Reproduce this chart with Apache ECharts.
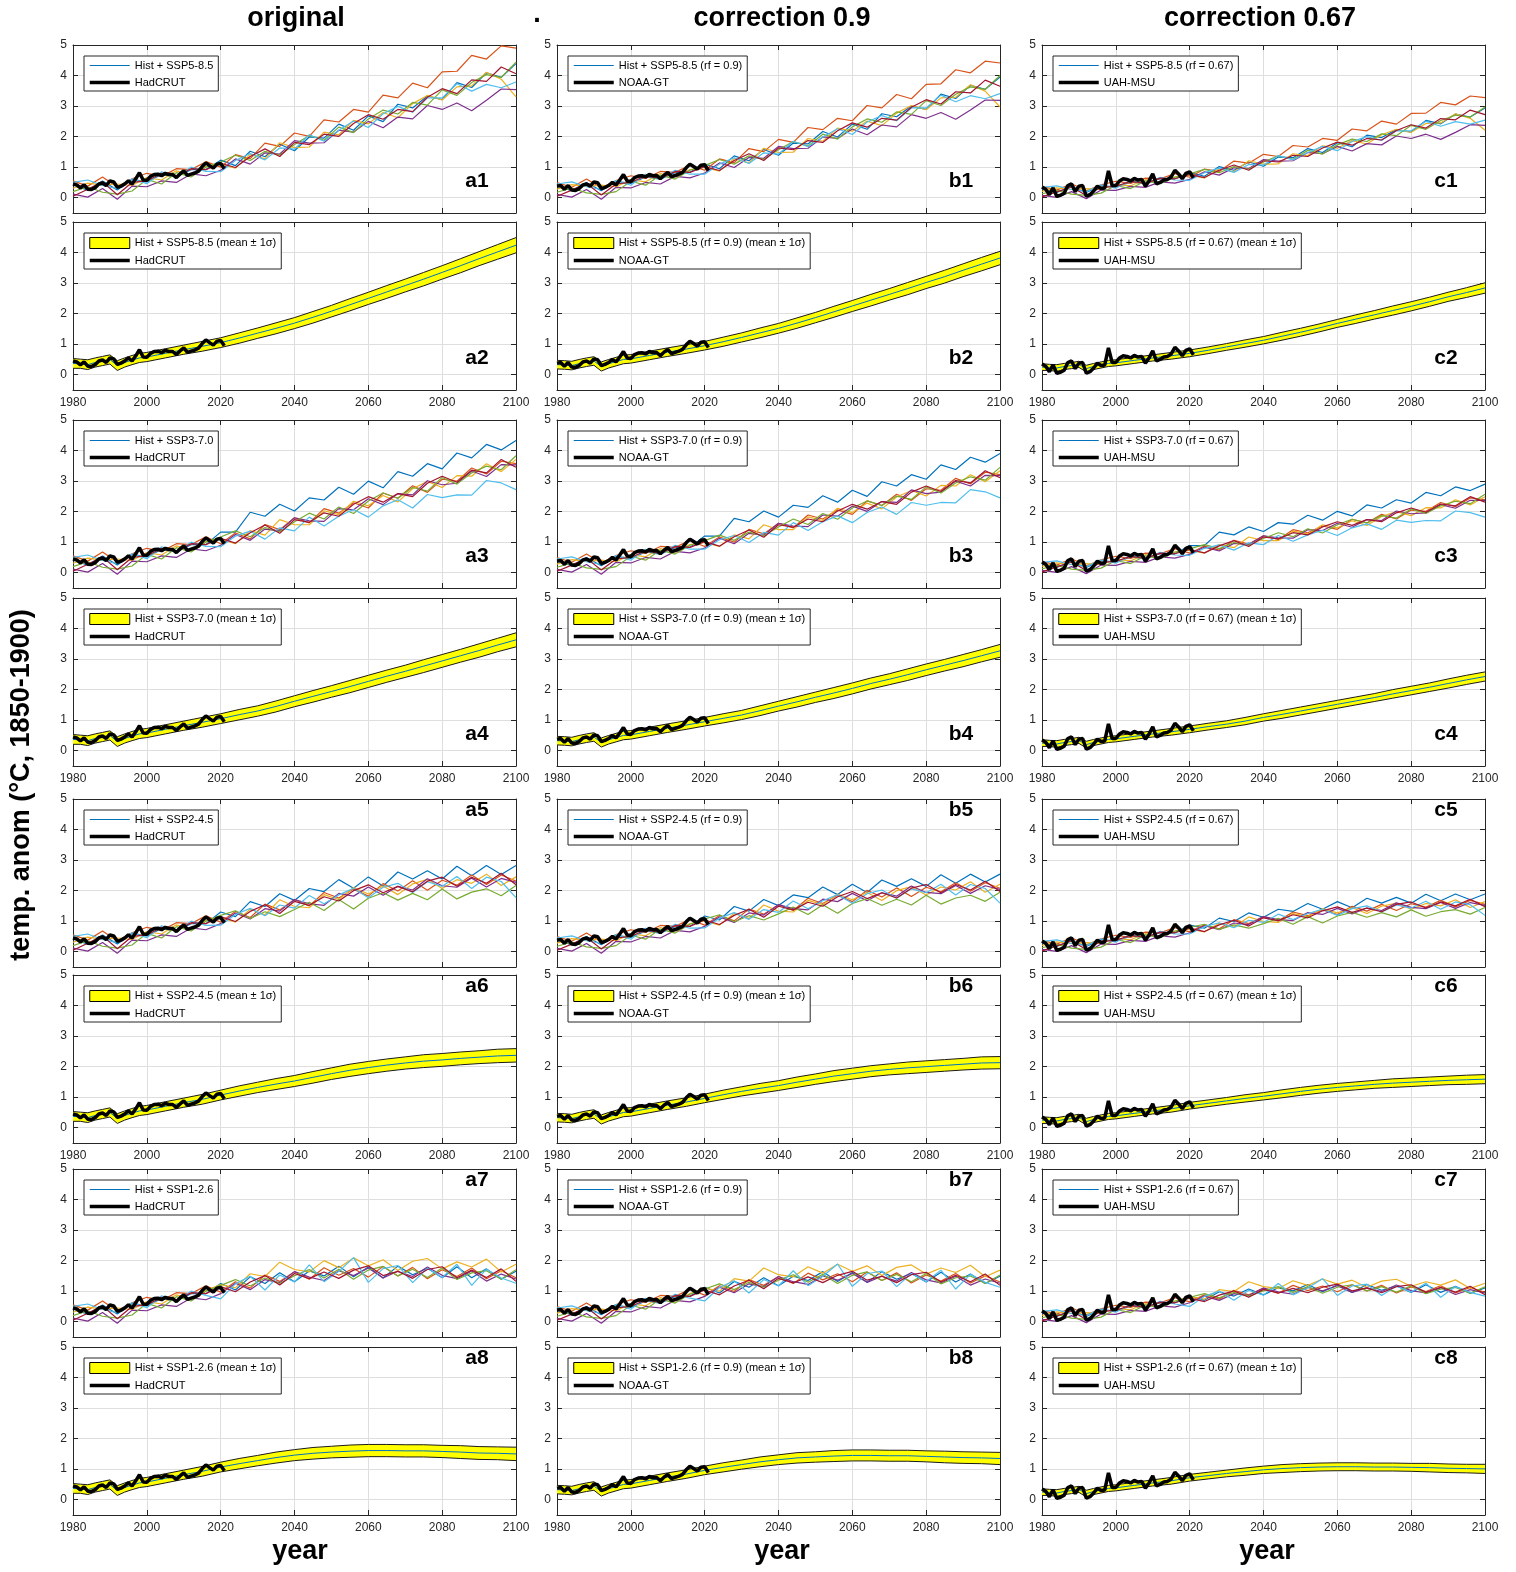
<!DOCTYPE html>
<html>
<head>
<meta charset="utf-8">
<script src="https://cdn.jsdelivr.net/npm/echarts@6/dist/echarts.min.js"></script>
<style>
  html, body { margin: 0; background: #fff; }
  #chart { width: 1516px; height: 1572px; }
</style>
</head>
<body>
<div id="chart"></div>
<script>
// ---- data ----
const SCENARIOS = ["SSP5-8.5", "SSP3-7.0", "SSP2-4.5", "SSP1-2.6"];
const Y_TICKS = [0, 1, 2, 3, 4, 5];

const OBS_YEARS = [1980,1981,1982,1983,1984,1985,1986,1987,1988,1989,1990,1991,1992,1993,1994,1995,1996,1997,1998,1999,2000,2001,2002,2003,2004,2005,2006,2007,2008,2009,2010,2011,2012,2013,2014,2015,2016,2017,2018,2019,2020,2021];
const HADCRUT = [0.45,0.42,0.32,0.42,0.28,0.27,0.33,0.45,0.48,0.40,0.55,0.52,0.34,0.38,0.45,0.55,0.45,0.62,0.82,0.58,0.57,0.70,0.76,0.77,0.72,0.80,0.76,0.76,0.66,0.78,0.88,0.73,0.77,0.81,0.87,1.02,1.14,1.05,0.97,1.10,1.12,0.95];
const NOAA_GT = [0.38,0.40,0.28,0.40,0.25,0.24,0.30,0.42,0.45,0.38,0.52,0.49,0.30,0.34,0.40,0.50,0.42,0.58,0.76,0.55,0.53,0.66,0.71,0.72,0.68,0.76,0.72,0.73,0.62,0.74,0.83,0.69,0.73,0.77,0.83,0.98,1.10,1.02,0.94,1.06,1.08,0.89];
const UAH_MSU = [0.35,0.28,0.10,0.32,0.05,0.08,0.15,0.40,0.45,0.20,0.38,0.40,0.05,0.10,0.22,0.38,0.30,0.32,0.88,0.40,0.40,0.55,0.62,0.60,0.55,0.63,0.58,0.60,0.38,0.55,0.78,0.45,0.50,0.58,0.60,0.68,0.90,0.78,0.62,0.80,0.85,0.65];

// ensemble members, sampled every 4 years (historical part 1980-2016, scenario part 2020-2100)
const MEMBER_YEARS = [1980,1984,1988,1992,1996,2000,2004,2008,2012,2016,2020,2024,2028,2032,2036,2040,2044,2048,2052,2056,2060,2064,2068,2072,2076,2080,2084,2088,2092,2096,2100];

const MEM_HIST_A = [
  [0.42,0.25,0.55,0.25,0.60,0.52,0.76,0.68,0.92,0.92],
  [0.55,0.38,0.68,0.35,0.62,0.80,0.70,0.95,0.92,1.18],
  [0.31,0.48,0.41,0.45,0.40,0.66,0.58,0.88,0.74,1.02],
  [0.12,0.02,0.30,-0.05,0.38,0.36,0.55,0.50,0.78,0.72],
  [0.20,0.36,0.18,0.12,0.22,0.60,0.45,0.82,0.68,1.00],
  [0.50,0.58,0.40,0.30,0.62,0.46,0.85,0.68,1.00,0.86],
  [0.05,0.28,0.52,0.10,0.50,0.55,0.80,0.70,0.95,0.92]
];
const MEM_HIST_B = [
  [0.38,0.23,0.50,0.23,0.54,0.47,0.68,0.61,0.83,0.83],
  [0.50,0.34,0.61,0.32,0.56,0.72,0.63,0.86,0.83,1.06],
  [0.28,0.43,0.37,0.41,0.36,0.59,0.52,0.79,0.67,0.92],
  [0.11,0.02,0.27,-0.05,0.34,0.32,0.50,0.45,0.70,0.65],
  [0.18,0.32,0.16,0.11,0.20,0.54,0.41,0.74,0.61,0.90],
  [0.45,0.52,0.36,0.27,0.56,0.41,0.77,0.61,0.90,0.77],
  [0.05,0.25,0.47,0.09,0.45,0.50,0.72,0.63,0.86,0.83]
];
const MEM_HIST_C = [
  [0.28,0.17,0.37,0.17,0.40,0.35,0.51,0.46,0.62,0.62],
  [0.37,0.25,0.46,0.23,0.42,0.54,0.47,0.64,0.62,0.79],
  [0.21,0.32,0.27,0.30,0.27,0.44,0.39,0.59,0.50,0.68],
  [0.08,0.01,0.20,-0.03,0.25,0.24,0.37,0.34,0.52,0.48],
  [0.13,0.24,0.12,0.08,0.15,0.40,0.30,0.55,0.46,0.67],
  [0.34,0.39,0.27,0.20,0.42,0.31,0.57,0.46,0.67,0.58],
  [0.03,0.19,0.35,0.07,0.34,0.37,0.54,0.47,0.64,0.62]
];

const MEM_585_A = [
  [1.23,1.05,1.52,1.34,1.75,1.54,1.99,1.95,2.41,2.21,2.68,2.49,3.06,2.94,3.33,3.21,3.77,3.61,4.09,3.94,4.39],
  [1.00,1.41,1.28,1.79,1.68,2.12,2.01,2.55,2.48,2.89,2.80,3.36,3.27,3.75,3.60,4.12,4.14,4.66,4.54,4.97,4.90],
  [1.10,0.97,1.42,1.27,1.80,1.64,1.66,2.15,2.06,2.53,2.42,2.79,2.62,3.08,3.35,3.20,3.63,3.66,4.11,3.88,3.30],
  [0.90,1.27,1.10,1.47,1.43,1.87,1.79,1.80,2.21,2.15,2.50,2.29,2.64,2.58,3.02,2.89,3.10,2.85,3.19,3.56,3.54],
  [1.17,1.39,1.22,1.52,1.40,1.74,2.04,1.88,2.31,2.13,2.58,2.87,2.74,3.12,3.03,3.53,3.35,3.77,4.03,3.94,4.44],
  [0.85,1.22,1.45,1.24,1.63,1.59,2.06,1.85,2.21,2.51,2.30,2.75,2.99,2.80,3.27,3.27,3.73,3.49,3.71,3.60,3.79],
  [1.13,0.99,1.35,1.60,1.35,1.81,1.74,2.08,2.01,2.43,2.72,2.57,2.89,2.82,3.29,3.57,3.41,3.86,3.81,4.28,4.06]
];
const MEM_585_B = [
  [1.11,0.95,1.37,1.21,1.58,1.39,1.79,1.76,2.17,1.99,2.41,2.24,2.75,2.65,3.00,2.89,3.39,3.25,3.68,3.55,3.95],
  [0.90,1.27,1.15,1.61,1.51,1.91,1.81,2.30,2.23,2.60,2.52,3.02,2.94,3.38,3.24,3.71,3.73,4.19,4.09,4.47,4.41],
  [0.99,0.87,1.28,1.14,1.62,1.48,1.49,1.94,1.85,2.28,2.18,2.51,2.36,2.77,3.02,2.88,3.27,3.29,3.70,3.49,2.97],
  [0.81,1.14,0.99,1.32,1.29,1.68,1.61,1.62,1.99,1.94,2.25,2.06,2.38,2.32,2.72,2.60,2.79,2.57,2.87,3.20,3.19],
  [1.05,1.25,1.10,1.37,1.26,1.57,1.84,1.69,2.08,1.92,2.32,2.58,2.47,2.81,2.73,3.18,3.02,3.39,3.63,3.55,4.00],
  [0.77,1.10,1.31,1.12,1.47,1.43,1.85,1.67,1.99,2.26,2.07,2.48,2.69,2.52,2.94,2.94,3.36,3.14,3.34,3.24,3.41],
  [1.02,0.89,1.22,1.44,1.22,1.63,1.57,1.87,1.81,2.19,2.45,2.31,2.60,2.54,2.96,3.21,3.07,3.47,3.43,3.85,3.65]
];
const MEM_585_C = [
  [0.82,0.70,1.02,0.90,1.17,1.03,1.33,1.31,1.61,1.48,1.80,1.67,2.05,1.97,2.23,2.15,2.53,2.42,2.74,2.64,2.94],
  [0.67,0.94,0.86,1.20,1.13,1.42,1.35,1.71,1.66,1.94,1.88,2.25,2.19,2.51,2.41,2.76,2.77,3.12,3.04,3.33,3.28],
  [0.74,0.65,0.95,0.85,1.21,1.10,1.11,1.44,1.38,1.70,1.62,1.87,1.76,2.06,2.24,2.14,2.43,2.45,2.75,2.60,2.21],
  [0.60,0.85,0.74,0.98,0.96,1.25,1.20,1.21,1.48,1.44,1.68,1.53,1.77,1.73,2.02,1.94,2.08,1.91,2.14,2.39,2.37],
  [0.78,0.93,0.82,1.02,0.94,1.17,1.37,1.26,1.55,1.43,1.73,1.92,1.84,2.09,2.03,2.37,2.24,2.53,2.70,2.64,2.97],
  [0.57,0.82,0.97,0.83,1.09,1.07,1.38,1.24,1.48,1.68,1.54,1.84,2.00,1.88,2.19,2.19,2.50,2.34,2.49,2.41,2.54],
  [0.76,0.66,0.90,1.07,0.90,1.21,1.17,1.39,1.35,1.63,1.82,1.72,1.94,1.89,2.20,2.39,2.28,2.59,2.55,2.87,2.72]
];

const MEM_370_A = [
  [1.33,1.33,1.98,1.85,2.24,2.02,2.45,2.38,2.80,2.57,3.00,2.78,3.31,3.16,3.57,3.40,3.92,3.76,4.20,4.02,4.33],
  [0.95,1.30,1.11,1.58,1.41,1.80,1.63,2.10,1.95,2.29,2.12,2.61,2.44,2.85,2.63,3.06,3.00,3.43,3.23,3.65,3.57],
  [1.10,0.95,1.38,1.23,1.74,1.57,1.57,2.03,1.90,2.34,2.19,2.53,2.32,2.75,2.99,2.79,3.18,3.16,3.57,3.31,3.71],
  [0.90,1.25,1.06,1.43,1.37,1.80,1.70,1.68,2.10,2.06,2.42,2.23,2.59,2.55,3.01,2.88,2.93,3.33,3.15,3.54,3.53],
  [1.17,1.37,1.18,1.48,1.34,1.67,1.95,1.76,2.15,1.94,2.35,2.61,2.44,2.79,2.67,3.12,2.90,3.27,3.49,3.37,3.83],
  [0.85,1.20,1.36,1.10,1.47,1.37,1.82,1.53,1.85,2.07,1.82,2.19,2.39,2.12,2.56,2.46,2.55,2.54,3.02,2.94,2.72],
  [1.13,0.97,1.31,1.56,1.29,1.74,1.65,1.96,1.85,2.24,2.49,2.31,2.59,2.49,2.93,3.16,2.96,3.36,3.27,3.71,3.45]
];
const MEM_370_B = [
  [1.20,1.20,1.78,1.67,2.02,1.82,2.21,2.14,2.52,2.31,2.70,2.50,2.98,2.84,3.21,3.06,3.53,3.38,3.78,3.62,3.90],
  [0.86,1.17,1.00,1.42,1.27,1.62,1.47,1.89,1.76,2.06,1.91,2.35,2.20,2.57,2.37,2.75,2.70,3.09,2.91,3.29,3.21],
  [0.99,0.86,1.24,1.11,1.57,1.41,1.41,1.83,1.71,2.11,1.97,2.28,2.09,2.48,2.69,2.51,2.86,2.84,3.21,2.98,3.34],
  [0.81,1.13,0.95,1.29,1.23,1.62,1.53,1.51,1.89,1.85,2.18,2.01,2.33,2.30,2.71,2.59,2.64,3.00,2.84,3.19,3.18],
  [1.05,1.23,1.06,1.33,1.21,1.50,1.76,1.58,1.94,1.75,2.12,2.35,2.20,2.51,2.40,2.81,2.61,2.94,3.14,3.03,3.45],
  [0.77,1.08,1.22,0.99,1.32,1.23,1.64,1.38,1.67,1.86,1.64,1.97,2.15,1.91,2.30,2.21,2.30,2.29,2.72,2.65,2.45],
  [1.02,0.87,1.18,1.40,1.16,1.57,1.49,1.76,1.67,2.02,2.24,2.08,2.33,2.24,2.64,2.84,2.66,3.02,2.94,3.34,3.11]
];
const MEM_370_C = [
  [0.89,0.89,1.33,1.24,1.50,1.35,1.64,1.59,1.88,1.72,2.01,1.86,2.22,2.12,2.39,2.28,2.63,2.52,2.81,2.69,2.90],
  [0.64,0.87,0.74,1.06,0.94,1.21,1.09,1.41,1.31,1.53,1.42,1.75,1.63,1.91,1.76,2.05,2.01,2.30,2.16,2.45,2.39],
  [0.74,0.64,0.92,0.82,1.17,1.05,1.05,1.36,1.27,1.57,1.47,1.70,1.55,1.84,2.00,1.87,2.13,2.12,2.39,2.22,2.49],
  [0.60,0.84,0.71,0.96,0.92,1.21,1.14,1.13,1.41,1.38,1.62,1.49,1.74,1.71,2.02,1.93,1.96,2.23,2.11,2.37,2.37],
  [0.78,0.92,0.79,0.99,0.90,1.12,1.31,1.18,1.44,1.30,1.57,1.75,1.63,1.87,1.79,2.09,1.94,2.19,2.34,2.26,2.57],
  [0.57,0.80,0.91,0.74,0.98,0.92,1.22,1.03,1.24,1.39,1.22,1.47,1.60,1.42,1.72,1.65,1.71,1.70,2.02,1.97,1.82],
  [0.76,0.65,0.88,1.05,0.86,1.17,1.11,1.31,1.24,1.50,1.67,1.55,1.74,1.67,1.96,2.12,1.98,2.25,2.19,2.49,2.31]
];

const MEM_245_A = [
  [1.30,1.15,1.64,1.48,1.90,1.68,2.07,1.97,2.36,2.08,2.45,2.15,2.61,2.38,2.65,2.38,2.80,2.49,2.82,2.53,2.82],
  [0.97,1.32,1.12,1.56,1.37,1.71,1.50,1.94,1.76,2.05,1.82,2.23,1.99,2.32,2.01,2.34,2.18,2.51,2.20,2.51,2.31],
  [1.12,0.97,1.39,1.21,1.70,1.48,1.44,1.87,1.71,2.10,1.89,2.15,1.87,2.22,2.37,2.07,2.36,2.24,2.54,2.17,2.45],
  [0.92,1.27,1.07,1.41,1.33,1.71,1.57,1.52,1.91,1.82,2.12,1.85,2.14,2.02,2.39,2.16,2.11,2.41,2.12,2.40,2.27],
  [1.19,1.34,1.09,1.31,1.15,1.38,1.62,1.35,1.71,1.40,1.75,1.93,1.69,1.91,1.70,2.05,1.73,1.95,2.06,1.83,2.17],
  [0.87,1.22,1.42,1.18,1.53,1.43,1.84,1.57,1.86,2.08,1.77,2.11,2.24,1.94,2.29,2.14,2.46,2.07,2.44,2.30,1.77],
  [1.15,0.99,1.32,1.54,1.25,1.65,1.52,1.80,1.66,2.00,2.19,1.93,2.14,1.96,2.31,2.44,2.14,2.44,2.24,2.57,2.19]
];
const MEM_245_B = [
  [1.17,1.04,1.48,1.33,1.71,1.51,1.86,1.77,2.12,1.87,2.21,1.94,2.35,2.14,2.39,2.14,2.52,2.24,2.54,2.28,2.54],
  [0.87,1.19,1.01,1.40,1.23,1.54,1.35,1.75,1.58,1.85,1.64,2.01,1.79,2.09,1.81,2.11,1.96,2.26,1.98,2.26,2.08],
  [1.01,0.87,1.25,1.09,1.53,1.33,1.30,1.68,1.54,1.89,1.70,1.94,1.68,2.00,2.13,1.86,2.12,2.02,2.29,1.95,2.21],
  [0.83,1.14,0.96,1.27,1.20,1.54,1.41,1.37,1.72,1.64,1.91,1.67,1.93,1.82,2.15,1.94,1.90,2.17,1.91,2.16,2.04],
  [1.07,1.21,0.98,1.18,1.04,1.24,1.46,1.22,1.54,1.26,1.58,1.74,1.52,1.72,1.53,1.85,1.56,1.76,1.85,1.65,1.95],
  [0.78,1.10,1.28,1.06,1.38,1.29,1.66,1.41,1.67,1.87,1.59,1.90,2.02,1.75,2.06,1.93,2.21,1.86,2.20,2.07,1.59],
  [1.04,0.89,1.19,1.39,1.13,1.49,1.37,1.62,1.49,1.80,1.97,1.74,1.93,1.76,2.08,2.20,1.93,2.20,2.02,2.31,1.97]
];
const MEM_245_C = [
  [0.87,0.77,1.10,0.99,1.27,1.13,1.39,1.32,1.58,1.39,1.64,1.44,1.75,1.59,1.78,1.59,1.88,1.67,1.89,1.70,1.89],
  [0.65,0.88,0.75,1.05,0.92,1.15,1.01,1.30,1.18,1.37,1.22,1.49,1.33,1.55,1.35,1.57,1.46,1.68,1.47,1.68,1.55],
  [0.75,0.65,0.93,0.81,1.14,0.99,0.96,1.25,1.15,1.41,1.27,1.44,1.25,1.49,1.59,1.39,1.58,1.50,1.70,1.45,1.64],
  [0.62,0.85,0.72,0.94,0.89,1.15,1.05,1.02,1.28,1.22,1.42,1.24,1.43,1.35,1.60,1.45,1.41,1.61,1.42,1.61,1.52],
  [0.80,0.90,0.73,0.88,0.77,0.92,1.09,0.90,1.15,0.94,1.17,1.29,1.13,1.28,1.14,1.37,1.16,1.31,1.38,1.23,1.45],
  [0.58,0.82,0.95,0.79,1.03,0.96,1.23,1.05,1.25,1.39,1.19,1.41,1.50,1.30,1.53,1.43,1.65,1.39,1.63,1.54,1.19],
  [0.77,0.66,0.88,1.03,0.84,1.11,1.02,1.21,1.11,1.34,1.47,1.29,1.43,1.31,1.55,1.63,1.43,1.63,1.50,1.72,1.47]
];

const MEM_126_A = [
  [1.25,1.04,1.47,1.25,1.60,1.31,1.66,1.50,1.82,1.47,1.79,1.43,1.82,1.54,1.75,1.44,1.80,1.44,1.73,1.39,1.65],
  [0.97,1.31,1.10,1.53,1.32,1.64,1.39,1.77,1.52,1.74,1.46,1.81,1.50,1.78,1.41,1.70,1.48,1.76,1.41,1.67,1.44],
  [1.22,1.11,1.57,1.48,1.95,1.71,1.63,2.00,1.77,2.09,1.83,2.03,1.68,1.98,2.07,1.73,1.96,1.79,2.05,1.63,1.88],
  [0.92,1.26,1.05,1.38,1.28,1.64,1.46,1.35,1.67,1.51,1.76,1.43,1.65,1.48,1.79,1.52,1.41,1.66,1.33,1.56,1.40],
  [1.19,1.38,1.17,1.43,1.25,1.51,1.71,1.43,1.72,1.39,1.69,1.81,1.50,1.72,1.45,1.76,1.38,1.60,1.67,1.39,1.70],
  [0.75,1.24,1.49,1.04,1.53,1.30,1.86,1.31,1.65,2.10,1.29,1.74,1.84,1.28,1.75,1.45,1.88,1.19,1.72,1.43,1.26],
  [1.15,0.98,1.30,1.51,1.20,1.58,1.41,1.63,1.42,1.69,1.83,1.51,1.65,1.42,1.71,1.80,1.44,1.69,1.45,1.73,1.32]
];
const MEM_126_B = [
  [1.13,0.94,1.32,1.13,1.44,1.18,1.49,1.35,1.64,1.32,1.61,1.29,1.64,1.39,1.58,1.30,1.62,1.30,1.56,1.25,1.49],
  [0.87,1.18,0.99,1.38,1.19,1.48,1.25,1.59,1.37,1.57,1.31,1.63,1.35,1.60,1.27,1.53,1.33,1.58,1.27,1.50,1.30],
  [1.10,1.00,1.41,1.33,1.76,1.54,1.47,1.80,1.59,1.88,1.65,1.83,1.51,1.78,1.86,1.56,1.76,1.61,1.85,1.47,1.69],
  [0.83,1.13,0.95,1.24,1.15,1.48,1.31,1.22,1.50,1.36,1.58,1.29,1.49,1.33,1.61,1.37,1.27,1.49,1.20,1.40,1.26],
  [1.07,1.24,1.05,1.29,1.13,1.36,1.54,1.29,1.55,1.25,1.52,1.63,1.35,1.55,1.31,1.58,1.24,1.44,1.50,1.25,1.53],
  [0.68,1.12,1.34,0.94,1.38,1.17,1.67,1.18,1.49,1.89,1.16,1.57,1.66,1.15,1.58,1.31,1.69,1.07,1.55,1.29,1.13],
  [1.04,0.88,1.17,1.36,1.08,1.42,1.27,1.47,1.28,1.52,1.65,1.36,1.49,1.28,1.54,1.62,1.30,1.52,1.31,1.56,1.19]
];
const MEM_126_C = [
  [0.84,0.70,0.98,0.84,1.07,0.88,1.11,1.01,1.22,0.98,1.20,0.96,1.22,1.03,1.17,0.96,1.21,0.96,1.16,0.93,1.11],
  [0.65,0.88,0.74,1.03,0.88,1.10,0.93,1.19,1.02,1.17,0.98,1.21,1.01,1.19,0.94,1.14,0.99,1.18,0.94,1.12,0.96],
  [0.82,0.74,1.05,0.99,1.31,1.15,1.09,1.34,1.19,1.40,1.23,1.36,1.13,1.33,1.39,1.16,1.31,1.20,1.37,1.09,1.26],
  [0.62,0.84,0.70,0.92,0.86,1.10,0.98,0.90,1.12,1.01,1.18,0.96,1.11,0.99,1.20,1.02,0.94,1.11,0.89,1.05,0.94],
  [0.80,0.92,0.78,0.96,0.84,1.01,1.15,0.96,1.15,0.93,1.13,1.21,1.01,1.15,0.97,1.18,0.92,1.07,1.12,0.93,1.14],
  [0.50,0.83,1.00,0.70,1.03,0.87,1.25,0.88,1.11,1.41,0.86,1.17,1.23,0.86,1.17,0.97,1.26,0.80,1.15,0.96,0.84],
  [0.77,0.66,0.87,1.01,0.80,1.06,0.94,1.09,0.95,1.13,1.23,1.01,1.11,0.95,1.15,1.21,0.96,1.13,0.97,1.16,0.88]
];

// ensemble mean and 1-sigma spread (historical 1980-2000, scenario 2005-2100)
const BAND_YEARS = [1980,1982,1984,1986,1988,1990,1992,1994,1996,1998,2000,2005,2010,2015,2020,2025,2030,2035,2040,2045,2050,2055,2060,2065,2070,2075,2080,2085,2090,2095,2100];

const MEAN_HIST_A = [0.37,0.36,0.33,0.40,0.45,0.50,0.30,0.40,0.48,0.55,0.58];
const MEAN_HIST_B = [0.33,0.32,0.30,0.36,0.41,0.45,0.27,0.36,0.43,0.50,0.52];
const MEAN_HIST_C = [0.25,0.24,0.22,0.27,0.30,0.34,0.20,0.27,0.32,0.37,0.39];

const MEAN_585_A = [0.70,0.82,0.93,1.05,1.20,1.36,1.52,1.69,1.88,2.08,2.29,2.50,2.71,2.92,3.13,3.35,3.57,3.80,4.02,4.24];
const MEAN_585_B = [0.63,0.74,0.84,0.95,1.08,1.22,1.37,1.52,1.69,1.87,2.06,2.25,2.44,2.63,2.82,3.02,3.21,3.42,3.62,3.82];
const MEAN_585_C = [0.47,0.55,0.62,0.70,0.80,0.91,1.02,1.13,1.26,1.39,1.53,1.68,1.82,1.96,2.10,2.24,2.39,2.55,2.69,2.84];
const MEAN_370_A = [0.70,0.82,0.93,1.05,1.18,1.30,1.45,1.62,1.78,1.94,2.10,2.27,2.44,2.60,2.77,2.94,3.11,3.28,3.46,3.63];
const MEAN_370_B = [0.63,0.74,0.84,0.95,1.06,1.17,1.31,1.46,1.60,1.75,1.89,2.04,2.20,2.34,2.49,2.65,2.80,2.95,3.11,3.27];
const MEAN_370_C = [0.47,0.55,0.62,0.70,0.79,0.87,0.97,1.09,1.19,1.30,1.41,1.52,1.63,1.74,1.86,1.97,2.08,2.20,2.32,2.43];
const MEAN_245_A = [0.70,0.82,0.93,1.07,1.20,1.32,1.43,1.53,1.65,1.77,1.88,1.97,2.05,2.12,2.18,2.22,2.27,2.31,2.35,2.37];
const MEAN_245_B = [0.63,0.74,0.84,0.96,1.08,1.19,1.29,1.38,1.49,1.59,1.69,1.77,1.85,1.91,1.96,2.00,2.04,2.08,2.12,2.13];
const MEAN_245_C = [0.47,0.55,0.62,0.72,0.80,0.88,0.96,1.03,1.11,1.19,1.26,1.32,1.37,1.42,1.46,1.49,1.52,1.55,1.57,1.59];
const MEAN_126_A = [0.70,0.82,0.93,1.07,1.18,1.28,1.38,1.46,1.52,1.56,1.59,1.61,1.61,1.60,1.60,1.58,1.56,1.53,1.52,1.50];
const MEAN_126_B = [0.63,0.74,0.84,0.96,1.06,1.15,1.24,1.31,1.37,1.40,1.43,1.45,1.45,1.44,1.44,1.42,1.40,1.38,1.37,1.35];
const MEAN_126_C = [0.47,0.55,0.62,0.72,0.79,0.86,0.92,0.98,1.02,1.05,1.07,1.08,1.08,1.07,1.07,1.06,1.05,1.03,1.02,1.01];

const SIG_HIST_A = [0.16,0.15,0.16,0.15,0.15,0.15,0.16,0.15,0.15,0.15,0.15];
const SIG_HIST_B = [0.14,0.14,0.14,0.14,0.14,0.14,0.15,0.14,0.14,0.14,0.14];
const SIG_HIST_C = [0.11,0.10,0.11,0.10,0.10,0.10,0.11,0.10,0.10,0.10,0.10];

const SIG_585_A = [0.15,0.15,0.16,0.16,0.17,0.17,0.18,0.18,0.19,0.19,0.20,0.20,0.21,0.21,0.22,0.22,0.23,0.23,0.24,0.25];
const SIG_585_B = [0.14,0.14,0.14,0.14,0.15,0.15,0.16,0.16,0.17,0.17,0.18,0.18,0.19,0.19,0.20,0.20,0.21,0.21,0.22,0.22];
const SIG_585_C = [0.10,0.10,0.11,0.11,0.11,0.11,0.12,0.12,0.13,0.13,0.13,0.13,0.14,0.14,0.15,0.15,0.15,0.15,0.16,0.17];
const SIG_370_A = [0.15,0.15,0.16,0.16,0.17,0.17,0.18,0.18,0.19,0.19,0.20,0.20,0.20,0.20,0.21,0.21,0.21,0.22,0.22,0.23];
const SIG_370_B = [0.14,0.14,0.14,0.14,0.15,0.15,0.16,0.16,0.17,0.17,0.18,0.18,0.18,0.18,0.19,0.19,0.19,0.20,0.20,0.21];
const SIG_370_C = [0.10,0.10,0.11,0.11,0.11,0.11,0.12,0.12,0.13,0.13,0.13,0.13,0.13,0.13,0.14,0.14,0.14,0.15,0.15,0.15];
const SIG_245_A = [0.15,0.15,0.16,0.16,0.17,0.17,0.18,0.18,0.19,0.19,0.20,0.20,0.20,0.20,0.21,0.21,0.21,0.21,0.22,0.22];
const SIG_245_B = [0.14,0.14,0.14,0.14,0.15,0.15,0.16,0.16,0.17,0.17,0.18,0.18,0.18,0.18,0.19,0.19,0.19,0.19,0.20,0.20];
const SIG_245_C = [0.10,0.10,0.11,0.11,0.11,0.11,0.12,0.12,0.13,0.13,0.13,0.13,0.13,0.13,0.14,0.14,0.14,0.14,0.15,0.15];
const SIG_126_A = [0.15,0.15,0.16,0.16,0.17,0.17,0.18,0.18,0.19,0.19,0.20,0.20,0.20,0.20,0.20,0.20,0.21,0.21,0.21,0.22];
const SIG_126_B = [0.14,0.14,0.14,0.14,0.15,0.15,0.16,0.16,0.17,0.17,0.18,0.18,0.18,0.18,0.18,0.18,0.19,0.19,0.19,0.20];
const SIG_126_C = [0.10,0.10,0.11,0.11,0.11,0.11,0.12,0.12,0.13,0.13,0.13,0.13,0.13,0.13,0.13,0.13,0.14,0.14,0.14,0.15];

// ---- layout ----
const FONT = "'Liberation Sans', Arial, sans-serif";
const MEMBER_COLORS = ["#0072BD", "#D95319", "#EDB120", "#7E2F8E", "#77AC30", "#4DBEEE", "#A2142F"];
const AXIS_COLOR = "#262626";
const GRID_COLOR = "#dedede";
const BAND_FILL = "#ffff00";
const BAND_EDGE = "#1a1a1a";
const ROW_TOPS = [45, 222, 420, 598, 799, 975, 1169, 1347];
const ROW_H = 168;
const COL_W = 443;

const COLUMNS = [
  {
    id: "a", left: 73, suffix: "", obsName: "HadCRUT", obs: HADCRUT,
    memHist: MEM_HIST_A, memFut: [MEM_585_A, MEM_370_A, MEM_245_A, MEM_126_A],
    meanHist: MEAN_HIST_A, meanFut: [MEAN_585_A, MEAN_370_A, MEAN_245_A, MEAN_126_A],
    sigHist: SIG_HIST_A, sigFut: [SIG_585_A, SIG_370_A, SIG_245_A, SIG_126_A],
  },
  {
    id: "b", left: 557, suffix: " (rf = 0.9)", obsName: "NOAA-GT", obs: NOAA_GT,
    memHist: MEM_HIST_B, memFut: [MEM_585_B, MEM_370_B, MEM_245_B, MEM_126_B],
    meanHist: MEAN_HIST_B, meanFut: [MEAN_585_B, MEAN_370_B, MEAN_245_B, MEAN_126_B],
    sigHist: SIG_HIST_B, sigFut: [SIG_585_B, SIG_370_B, SIG_245_B, SIG_126_B],
  },
  {
    id: "c", left: 1042, suffix: " (rf = 0.67)", obsName: "UAH-MSU", obs: UAH_MSU,
    memHist: MEM_HIST_C, memFut: [MEM_585_C, MEM_370_C, MEM_245_C, MEM_126_C],
    meanHist: MEAN_HIST_C, meanFut: [MEAN_585_C, MEAN_370_C, MEAN_245_C, MEAN_126_C],
    sigHist: SIG_HIST_C, sigFut: [SIG_585_C, SIG_370_C, SIG_245_C, SIG_126_C],
  },
];

const grids = [], xAxes = [], yAxes = [], series = [], legends = [], graphics = [];

function addAxes(g, showX) {
  const tick = { show: true, inside: true, length: 5, lineStyle: { color: AXIS_COLOR } };
  const line = { show: true, onZero: false, lineStyle: { color: AXIS_COLOR, width: 1 } };
  xAxes.push({
    gridIndex: g, type: "value", min: 1980, max: 2100, interval: 20,
    axisLine: line, axisTick: tick,
    axisLabel: { show: showX, color: AXIS_COLOR, fontSize: 12, fontFamily: FONT, margin: 7, formatter: (v) => String(v) },
    splitLine: { show: true, lineStyle: { color: GRID_COLOR, width: 1 } },
  });
  xAxes.push({
    gridIndex: g, type: "value", position: "top", min: 1980, max: 2100, interval: 20,
    axisLine: line, axisTick: tick, axisLabel: { show: false }, splitLine: { show: false },
  });
  yAxes.push({
    gridIndex: g, type: "value", min: -0.5, max: 5,
    axisLine: line,
    axisTick: Object.assign({ customValues: Y_TICKS }, tick),
    axisLabel: { customValues: Y_TICKS, color: AXIS_COLOR, fontSize: 12, fontFamily: FONT, margin: 6 },
    splitLine: { show: true, lineStyle: { color: GRID_COLOR, width: 1 } },
  });
  yAxes.push({
    gridIndex: g, type: "value", position: "right", min: -0.5, max: 5,
    axisLine: line,
    axisTick: Object.assign({ customValues: Y_TICKS }, tick),
    axisLabel: { show: false }, splitLine: { show: false },
  });
}

function legendFor(left, top, data) {
  return {
    left: left + 11, top: top + 11, orient: "vertical", selectedMode: false,
    backgroundColor: "#fff", borderColor: AXIS_COLOR, borderWidth: 1, borderRadius: 0,
    padding: [4, 5, 3, 4], itemGap: 6, itemWidth: 40, itemHeight: 11,
    textStyle: { fontSize: 11, color: "#000", fontFamily: FONT },
    data,
  };
}

// yellow mean +- 1 sigma band, drawn as one polygon through the axis scales
function bandSeries(name, rows, xi, yi) {
  return {
    type: "custom", name, xAxisIndex: xi, yAxisIndex: yi, silent: true, clip: true,
    itemStyle: { color: BAND_FILL },
    data: rows,
    encode: { x: 0, y: [1, 2] },
    renderItem(params, api) {
      if (params.dataIndex !== 0) return null;
      const upper = rows.map((r) => api.coord([r[0], r[2]]));
      const lower = rows.map((r) => api.coord([r[0], r[1]]));
      return {
        type: "group",
        children: [
          { type: "polygon", shape: { points: upper.concat(lower.slice().reverse()) }, style: { fill: BAND_FILL, stroke: null } },
          { type: "polyline", shape: { points: upper }, style: { fill: null, stroke: BAND_EDGE, lineWidth: 1 } },
          { type: "polyline", shape: { points: lower }, style: { fill: null, stroke: BAND_EDGE, lineWidth: 1 } },
        ],
      };
    },
  };
}

let g = 0;
COLUMNS.forEach((col) => {
  SCENARIOS.forEach((scen, s) => {
    [0, 1].forEach((kind) => {
      const row = s * 2 + kind;
      const top = ROW_TOPS[row];
      const tag = col.id + (row + 1);
      const xi = 2 * g, yi = 2 * g;
      grids.push({ left: col.left, top, width: COL_W, height: ROW_H });
      addAxes(g, kind === 1);

      const baseName = "Hist + " + scen + col.suffix;
      const obsEntry = { name: col.obsName, itemStyle: { opacity: 0 }, lineStyle: { width: 3.5, color: "#000" } };
      let legendData;
      if (kind === 0) {
        // spaghetti of ensemble members
        const fut = col.memFut[s];
        col.memHist.forEach((hist, m) => {
          const vals = hist.concat(fut[m]);
          series.push({
            type: "line", name: m === 0 ? baseName : tag + "-m" + m,
            xAxisIndex: xi, yAxisIndex: yi, symbol: "none", silent: true,
            lineStyle: { width: 1.2, color: MEMBER_COLORS[m] },
            itemStyle: { color: MEMBER_COLORS[m] },
            data: vals.map((v, i) => [MEMBER_YEARS[i], v]),
          });
        });
        legendData = [{ name: baseName, itemStyle: { opacity: 0 }, lineStyle: { width: 1 } }, obsEntry];
      } else {
        const mean = col.meanHist.concat(col.meanFut[s]);
        const sig = col.sigHist.concat(col.sigFut[s]);
        const bandName = baseName + " (mean \u00b1 1\u03c3)";
        const rows = mean.map((v, i) => [BAND_YEARS[i], v - sig[i], v + sig[i]]);
        series.push(bandSeries(bandName, rows, xi, yi));
        series.push({
          type: "line", name: tag + "-mean", xAxisIndex: xi, yAxisIndex: yi,
          symbol: "none", silent: true,
          lineStyle: { width: 1, color: "#0072BD" },
          data: mean.map((v, i) => [BAND_YEARS[i], v]),
        });
        legendData = [
          { name: bandName, icon: "rect", itemStyle: { color: BAND_FILL, borderColor: "#000", borderWidth: 1 } },
          obsEntry,
        ];
      }
      series.push({
        type: "line", name: col.obsName, xAxisIndex: xi, yAxisIndex: yi,
        symbol: "none", silent: true,
        lineStyle: { width: 3.5, color: "#000" },
        itemStyle: { color: "#000" },
        data: col.obs.map((v, i) => [OBS_YEARS[i], v]),
      });
      legends.push(legendFor(col.left, top, legendData));

      // panel tag (a1, b2, ...)
      const tagY = row < 4 ? top + 136 : top + 11;
      graphics.push({
        type: "text", x: col.left + 404, y: tagY, z: 100,
        style: { text: tag, font: "bold 21px " + FONT, fill: "#000", textAlign: "center", textVerticalAlign: "middle" },
      });
      g++;
    });
  });
});

function bigText(text, x, y, rotation) {
  return {
    type: "text", x, y, rotation: rotation || 0, z: 100,
    style: { text, font: "bold 27px " + FONT, fill: "#000", textAlign: "center", textVerticalAlign: "middle" },
  };
}
graphics.push(bigText("original", 296, 19));
graphics.push(bigText(".", 537, 15));
graphics.push(bigText("correction 0.9", 782, 19));
graphics.push(bigText("correction 0.67", 1260, 19));
graphics.push(bigText("year", 300, 1552));
graphics.push(bigText("year", 782, 1552));
graphics.push(bigText("year", 1267, 1552));
graphics.push(bigText("temp. anom (\u00b0C, 1850-1900)", 22, 785, Math.PI / 2));

const chart = echarts.init(document.getElementById("chart"));
chart.setOption({
  animation: false,
  backgroundColor: "#fff",
  grid: grids,
  xAxis: xAxes,
  yAxis: yAxes,
  legend: legends,
  series,
  graphic: graphics,
});
window.addEventListener("resize", () => chart.resize(), { passive: true });
</script>
</body>
</html>
